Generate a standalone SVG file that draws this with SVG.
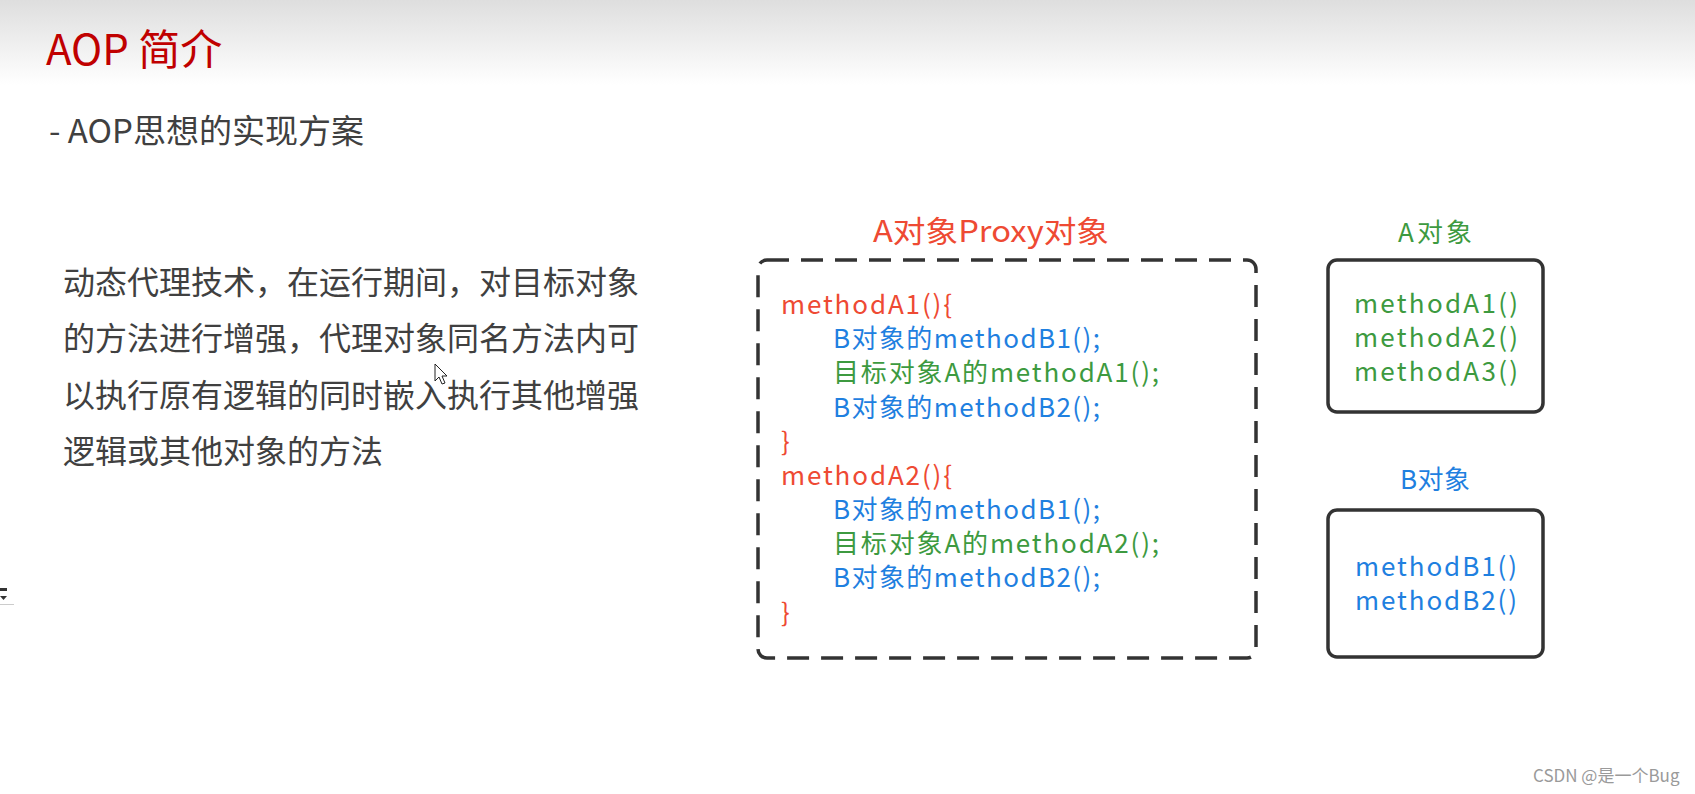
<svg xmlns="http://www.w3.org/2000/svg" width="1695" height="794" viewBox="0 0 1695 794">
<defs>
<linearGradient id="hdr" x1="0" y1="0" x2="0" y2="1">
<stop offset="0" stop-color="#dedede"/>
<stop offset="1" stop-color="#ffffff"/>
</linearGradient>
<style>
text{font-family:"Noto Sans CJK SC","Microsoft YaHei","Noto Sans",sans-serif;}
.para{font-size:32px;fill:#404040;}
.code{font-size:26px;}
.red{fill:#ee4a33;}
.blue{fill:#1f80e0;}
.green{fill:#3d9a40;}
.box{fill:none;stroke:#333333;stroke-width:3.5;}
</style>
</defs>
<rect x="0" y="0" width="1695" height="794" fill="#ffffff"/>
<rect x="0" y="0" width="1695" height="85" fill="url(#hdr)"/>
<text x="46" y="65" font-size="42" fill="#c00000">AOP 简介</text>
<text x="49" y="143" font-size="33" fill="#404040" textLength="315">- AOP思想的实现方案</text>
<g id="desc">
<text class="para" x="63" y="294">动态代理技术，在运行期间，对目标对象</text>
<text class="para" x="63" y="350">的方法进行增强，代理对象同名方法内可</text>
<text class="para" x="63" y="407">以执行原有逻辑的同时嵌入执行其他增强</text>
<text class="para" x="63" y="463">逻辑或其他对象的方法</text>
</g>
<g id="proxy">
<text x="873" y="242" font-size="30" class="red" textLength="236" lengthAdjust="spacingAndGlyphs">A对象Proxy对象</text>
<rect class="box" x="758" y="260" width="498" height="398" rx="9" stroke-dasharray="22 12"/>
<text class="code red" x="781" y="314" textLength="171">methodA1(){</text>
<text class="code blue" x="833" y="348" textLength="267">B对象的methodB1();</text>
<text class="code green" x="833" y="382" textLength="326">目标对象A的methodA1();</text>
<text class="code blue" x="833" y="417" textLength="267">B对象的methodB2();</text>
<text class="code red" x="781" y="451">}</text>
<text class="code red" x="781" y="485" textLength="171">methodA2(){</text>
<text class="code blue" x="833" y="519" textLength="267">B对象的methodB1();</text>
<text class="code green" x="833" y="553" textLength="326">目标对象A的methodA2();</text>
<text class="code blue" x="833" y="587" textLength="267">B对象的methodB2();</text>
<text class="code red" x="781" y="622">}</text>
</g>
<g id="objA">
<text class="code green" x="1398" y="242" textLength="74">A对象</text>
<rect class="box" x="1328" y="260" width="215" height="152" rx="9"/>
<text class="code green" x="1354" y="313" textLength="164">methodA1()</text>
<text class="code green" x="1354" y="347" textLength="164">methodA2()</text>
<text class="code green" x="1354" y="381" textLength="164">methodA3()</text>
</g>
<g id="objB">
<text class="code blue" x="1400" y="489" textLength="70">B对象</text>
<rect class="box" x="1328" y="510" width="215" height="147" rx="9"/>
<text class="code blue" x="1355" y="576" textLength="162">methodB1()</text>
<text class="code blue" x="1355" y="610" textLength="162">methodB2()</text>
</g>
<g id="connectors"></g>
<path d="M435 364 L435 381 L439 377 L442 384 L445 383 L442 376 L447 376 Z" fill="#ffffff" stroke="#222222" stroke-width="1"/>
<rect x="0" y="588" width="7" height="3" fill="#333333"/>
<path d="M0 596 L7 596 L3.5 600 Z" fill="#333333"/>
<rect x="0" y="604" width="14" height="1" fill="#cccccc"/>
<text x="1533" y="782" font-size="17" fill="#9a9a9a">CSDN @是一个Bug</text>
</svg>
